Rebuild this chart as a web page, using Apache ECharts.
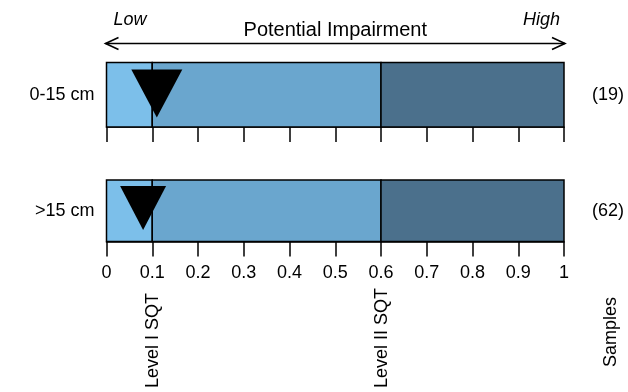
<!DOCTYPE html>
<html>
<head>
<meta charset="utf-8">
<script src="https://cdn.jsdelivr.net/npm/echarts@6/dist/echarts.min.js"></script>
<style>
  html, body { margin: 0; padding: 0; background: #fff; }
  #chart { width: 628px; height: 392px; }
</style>
</head>
<body>
<div id="chart"></div>
<script>
// Sediment depth layers and their sample counts
const categories = ['0-15 cm', '>15 cm'];
const sampleCounts = ['(19)', '(62)'];
// Mean quotient for each layer (marker position)
const markerValues = [0.11, 0.08];
// Zone bounds on the impairment scale
const zoneBounds = [0, 0.1, 0.6, 1];
// Threshold lines and their names
const thresholdValues = [0.1, 0.6];
const thresholdLabels = ['Level I SQT', 'Level II SQT'];
// Tick labels along the scale
const tickLabels = ['0', '0.1', '0.2', '0.3', '0.4', '0.5', '0.6', '0.7', '0.8', '0.9', '1'];

const zoneColors = ['#7cbfea', '#6aa6ce', '#4b708c'];
const FONT = 'Liberation Sans, Arial, sans-serif';

const chart = echarts.init(document.getElementById('chart'), null, { renderer: 'canvas' });

const zones = [];
for (let i = 0; i < zoneBounds.length - 1; i++) {
  zones.push([zoneBounds[i], zoneBounds[i + 1], i]);
}

// Layout of each row
const gridBoxes = [
  { left: 106.5, right: 64, top: 62.5, height: 64.5 },
  { left: 106.5, right: 64, top: 180, height: 61.5 }
];
const markerSizes = [[51, 48], [46, 44]];
const markerHeights = [0.52, 0.545];

const xAxes = gridBoxes.map((g, i) => ({
  type: 'value', gridIndex: i, min: 0, max: 1, interval: 0.1,
  axisLine: { show: true, lineStyle: { color: '#000', width: 1.5 } },
  axisTick: { show: true, inside: false, length: 15, lineStyle: { color: '#000', width: 1.5 } },
  axisLabel: {
    show: i === categories.length - 1,
    margin: 22.5, color: '#000', fontSize: 18, fontFamily: FONT,
    formatter: v => tickLabels[Math.round(v * 10)]
  },
  splitLine: { show: false }
}));

const yAxes = gridBoxes.map((g, i) => ({
  type: 'value', gridIndex: i, min: 0, max: 1, show: false
}));

const series = [];
categories.forEach((c, i) => {
  series.push({
    type: 'custom', xAxisIndex: i, yAxisIndex: i, z: 2,
    data: zones,
    renderItem: (params, api) => {
      const p0 = api.coord([api.value(0), 1]);
      const p1 = api.coord([api.value(1), 0]);
      return {
        type: 'rect',
        shape: { x: p0[0], y: p0[1], width: p1[0] - p0[0], height: p1[1] - p0[1] },
        style: { fill: zoneColors[api.value(2)], stroke: '#000', lineWidth: 1.5 }
      };
    }
  });
  series.push({
    type: 'scatter', xAxisIndex: i, yAxisIndex: i, z: 3,
    symbol: 'triangle', symbolRotate: 180, symbolSize: markerSizes[i],
    itemStyle: { color: '#000', opacity: 1 },
    data: [[markerValues[i], markerHeights[i]]],
    silent: true
  });
});

chart.setOption({
  animation: false,
  grid: gridBoxes,
  xAxis: xAxes,
  yAxis: yAxes,
  series: series
});

// Annotations placed from the axes' own scales
const graphics = [];
const txt = (x, y, text, opts) => ({
  type: 'text', x: x, y: y,
  style: Object.assign({ text: text, fill: '#000', font: '18px ' + FONT }, opts || {})
});

categories.forEach((c, i) => {
  const mid = chart.convertToPixel({ gridIndex: i }, [0, 0.5]);
  const right = chart.convertToPixel({ gridIndex: i }, [1, 0.5]);
  graphics.push(txt(mid[0] - 12, mid[1], c, { align: 'right', verticalAlign: 'middle' }));
  graphics.push(txt(right[0] + 44, mid[1], sampleCounts[i], { align: 'center', verticalAlign: 'middle' }));
});

const lastGrid = categories.length - 1;
thresholdValues.forEach((v, k) => {
  const p = chart.convertToPixel({ gridIndex: lastGrid }, [v, 0]);
  graphics.push({
    type: 'text', x: p[0] + 1, y: 388, rotation: Math.PI / 2,
    style: { text: thresholdLabels[k], fill: '#000', font: '18px ' + FONT, align: 'left', verticalAlign: 'middle' }
  });
});
graphics.push({
  type: 'text', x: 611, y: 332, rotation: Math.PI / 2,
  style: { text: 'Samples', fill: '#000', font: '18px ' + FONT, align: 'center', verticalAlign: 'middle' }
});

// Double-headed arrow for the impairment scale
const a0 = chart.convertToPixel({ gridIndex: 0 }, [0, 0]);
const a1 = chart.convertToPixel({ gridIndex: 0 }, [1, 0]);
const ay = 43.5;
const lineStyle = { stroke: '#000', lineWidth: 1.6, fill: null };
graphics.push({ type: 'line', shape: { x1: a0[0] - 1, y1: ay, x2: a1[0] + 1, y2: ay }, style: lineStyle });
graphics.push({ type: 'polyline', shape: { points: [[a0[0] + 12, ay - 6], [a0[0] - 1, ay], [a0[0] + 12, ay + 6]] }, style: lineStyle });
graphics.push({ type: 'polyline', shape: { points: [[a1[0] - 12, ay - 6], [a1[0] + 1, ay], [a1[0] - 12, ay + 6]] }, style: lineStyle });
graphics.push(txt(a0[0] + 7, 20, 'Low', { font: 'italic 18px ' + FONT, align: 'left', verticalAlign: 'middle' }));
graphics.push(txt(a1[0] - 4, 20, 'High', { font: 'italic 18px ' + FONT, align: 'right', verticalAlign: 'middle' }));
graphics.push(txt((a0[0] + a1[0]) / 2, 30, 'Potential Impairment', { font: '20px ' + FONT, align: 'center', verticalAlign: 'middle' }));

chart.setOption({ graphic: graphics });
</script>
</body>
</html>
